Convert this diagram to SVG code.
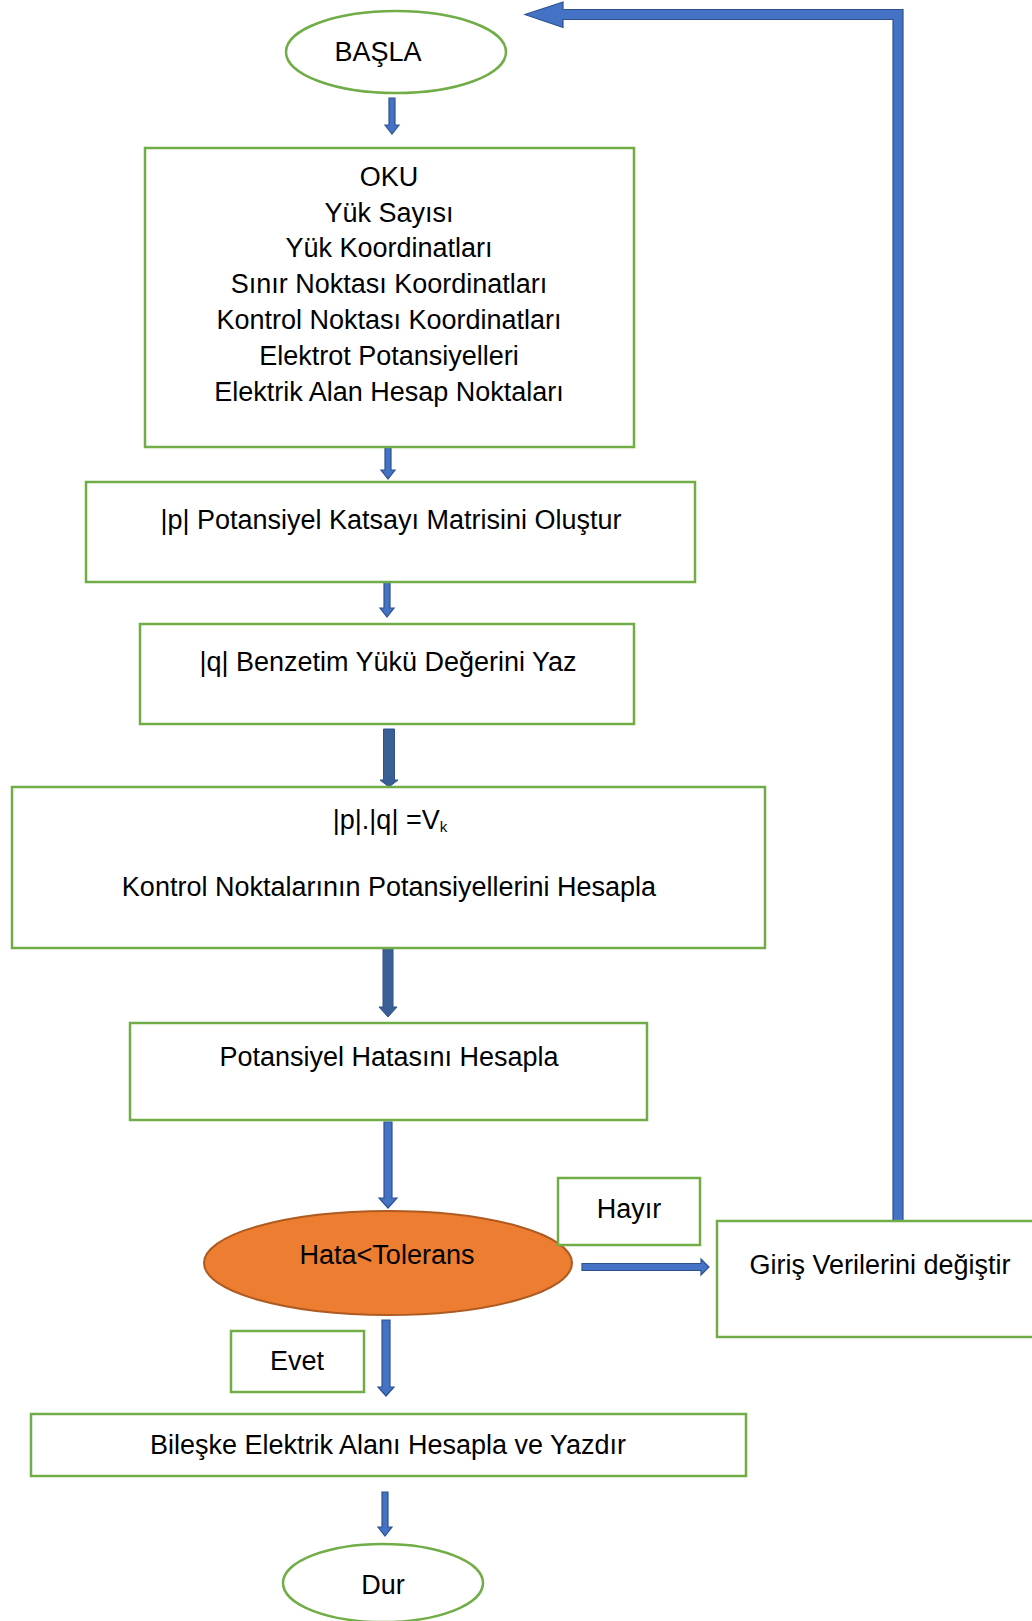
<svg xmlns="http://www.w3.org/2000/svg" width="1032" height="1621" viewBox="0 0 1032 1621">
<style>
.box{fill:#fff;stroke:#70AD47;stroke-width:2.5}
.t{font-family:"Liberation Sans",Arial,sans-serif;font-size:27px;fill:#000;text-anchor:middle}
.arr{fill:#4472C4;stroke:#2F528F;stroke-width:1.2}
.dark{fill:#3A5F94;stroke:#2F528F;stroke-width:1}
</style>
<rect width="1032" height="1621" fill="#fff"/>
<g id="connectors">
<path class="arr" d="M389,98 L395,98 L395,125 L399,125 L392,134 L385,125 L389,125 Z"/>
<path class="arr" d="M385,436 L391,436 L391,470 L395,470 L388,479 L381,470 L385,470 Z"/>
<path class="arr" d="M384,582 L390,582 L390,608 L394,608 L387,617 L380,608 L384,608 Z"/>
<path class="dark" d="M383.5,729 L394.5,729 L394.5,780 L398,780 L389,787 L380,780 L383.5,780 Z"/>
<path class="dark" d="M383,938 L393,938 L393,1007 L397,1007 L388,1017 L379,1007 L383,1007 Z"/>
<path class="arr" d="M384,1122 L392,1122 L392,1198 L397,1198 L388,1208 L379,1198 L384,1198 Z"/>
<path class="arr" d="M582,1263.5 L701,1263.5 L701,1259 L709,1267 L701,1275 L701,1270.5 L582,1270.5 Z"/>
<path class="arr" d="M382,1320 L390,1320 L390,1387 L394,1387 L386,1396 L378,1387 L382,1387 Z"/>
<path class="arr" d="M382,1492 L388,1492 L388,1527 L392,1527 L385,1536 L378,1527 L382,1527 Z"/>
<path class="arr" d="M893,1221 L893,19.5 L563,19.5 L563,27.5 L525,14.5 L563,2 L563,9.5 L903,9.5 L903,1221 Z"/>
</g>
<g id="start">
<ellipse class="box" cx="396" cy="52" rx="110" ry="41"/>
<text class="t" x="378" y="61">BAŞLA</text>
</g>
<g id="read">
<rect class="box" x="145" y="148" width="489" height="299"/>
<text class="t" x="389" y="186">OKU</text>
<text class="t" x="389" y="222">Yük Sayısı</text>
<text class="t" x="389" y="257">Yük Koordinatları</text>
<text class="t" x="389" y="293">Sınır Noktası Koordinatları</text>
<text class="t" x="389" y="329">Kontrol Noktası Koordinatları</text>
<text class="t" x="389" y="365">Elektrot Potansiyelleri</text>
<text class="t" x="389" y="401">Elektrik Alan Hesap Noktaları</text>
</g>
<g id="pmatrix">
<rect class="box" x="86" y="482" width="609" height="100"/>
<text class="t" x="391" y="529">|p| Potansiyel Katsayı Matrisini Oluştur</text>
</g>
<g id="qvalue">
<rect class="box" x="140" y="624" width="494" height="100"/>
<text class="t" x="388" y="671">|q| Benzetim Yükü Değerini Yaz</text>
</g>
<g id="compute">
<rect class="box" x="12" y="787" width="753" height="161"/>
<text class="t" x="390" y="829">|p|.|q| =V<tspan font-size="15" dy="3">k</tspan></text>
<text class="t" x="389" y="896">Kontrol Noktalarının Potansiyellerini Hesapla</text>
</g>
<g id="error">
<rect class="box" x="130" y="1023" width="517" height="97"/>
<text class="t" x="389" y="1066">Potansiyel Hatasını Hesapla</text>
</g>
<g id="decision">
<ellipse cx="388" cy="1263" rx="184" ry="52" fill="#ED7D31" stroke="#AE5A21" stroke-width="2"/>
<text class="t" x="387" y="1264">Hata&lt;Tolerans</text>
</g>
<g id="hayir">
<rect class="box" x="558" y="1178" width="142" height="67"/>
<text class="t" x="629" y="1218">Hayır</text>
</g>
<g id="change">
<rect class="box" x="717" y="1221" width="330" height="116"/>
<text class="t" x="880" y="1274">Giriş Verilerini değiştir</text>
</g>
<g id="evet">
<rect class="box" x="231" y="1331" width="133" height="61"/>
<text class="t" x="297" y="1370">Evet</text>
</g>
<g id="result">
<rect class="box" x="31" y="1414" width="715" height="62"/>
<text class="t" x="388" y="1454">Bileşke Elektrik Alanı Hesapla ve Yazdır</text>
</g>
<g id="stop">
<ellipse class="box" cx="383" cy="1583" rx="100" ry="39"/>
<text class="t" x="383" y="1594">Dur</text>
</g>
</svg>
